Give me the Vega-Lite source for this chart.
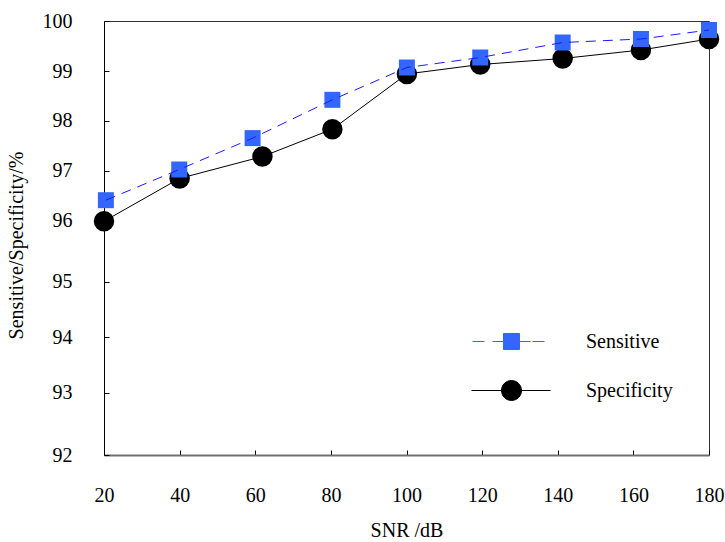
{
  "$schema": "https://vega.github.io/schema/vega-lite/v6.json",
  "width": 605,
  "height": 434,
  "autosize": {"type": "none"},
  "padding": {"left": 104, "top": 21, "right": 16, "bottom": 87},
  "background": "white",
  "config": {
    "font": "Liberation Serif",
    "view": {"stroke": "#333333", "strokeWidth": 1}
  },
  "data": {
    "values": [
      {"snr": 20, "value": 95.98, "series": "Specificity"},
      {"snr": 40, "value": 96.84, "series": "Specificity"},
      {"snr": 61.9, "value": 97.28, "series": "Specificity"},
      {"snr": 80.4, "value": 97.83, "series": "Specificity"},
      {"snr": 100.1, "value": 98.94, "series": "Specificity"},
      {"snr": 119.5, "value": 99.13, "series": "Specificity"},
      {"snr": 141.3, "value": 99.25, "series": "Specificity"},
      {"snr": 162, "value": 99.42, "series": "Specificity"},
      {"snr": 180, "value": 99.64, "series": "Specificity"},
      {"snr": 20.5, "value": 96.4, "series": "Sensitive"},
      {"snr": 39.9, "value": 97.02, "series": "Sensitive"},
      {"snr": 59.3, "value": 97.65, "series": "Sensitive"},
      {"snr": 80.4, "value": 98.42, "series": "Sensitive"},
      {"snr": 100.1, "value": 99.07, "series": "Sensitive"},
      {"snr": 119.5, "value": 99.27, "series": "Sensitive"},
      {"snr": 141.3, "value": 99.57, "series": "Sensitive"},
      {"snr": 162, "value": 99.64, "series": "Sensitive"},
      {"snr": 180, "value": 99.82, "series": "Sensitive"}
    ]
  },
  "encoding": {
    "x": {
      "field": "snr",
      "type": "quantitative",
      "scale": {"domain": [20, 180], "nice": false, "zero": false},
      "axis": {
        "title": "SNR /dB",
        "values": [20, 40, 60, 80, 100, 120, 140, 160, 180],
        "grid": false,
        "labelFlush": false,
        "tickSize": -5,
        "tickColor": "black",
        "labelPadding": 35,
        "labelFontSize": 20,
        "labelColor": "black",
        "titleFontSize": 20,
        "titleFontWeight": "normal",
        "titleColor": "black",
        "titlePadding": 15,
        "domainColor": "#707070",
        "domainWidth": 2
      }
    },
    "y": {
      "field": "value",
      "type": "quantitative",
      "scale": {
        "domain": [92, 93, 94, 95, 96, 97, 98, 99, 100],
        "range": [434, 371.7, 316, 260.7, 199, 149.5, 99.7, 50, 0],
        "nice": false,
        "zero": false
      },
      "axis": {
        "title": "Sensitive/Specificity/%",
        "values": [92, 93, 94, 95, 96, 97, 98, 99, 100],
        "grid": false,
        "labelFlush": false,
        "tickSize": -5,
        "tickColor": "black",
        "labelPadding": 37,
        "labelFontSize": 20,
        "labelColor": "black",
        "titleFontSize": 20,
        "titleFontWeight": "normal",
        "titleColor": "black",
        "titleX": -78,
        "titleY": 224,
        "domainColor": "black",
        "domainWidth": 1
      }
    },
    "color": {
      "field": "series",
      "type": "nominal",
      "scale": {"domain": ["Sensitive", "Specificity"], "range": ["#3366ff", "#000000"]},
      "legend": {
        "orient": "none",
        "legendX": 397,
        "legendY": 310,
        "title": null,
        "padding": 0,
        "labelFont": "Liberation Serif",
        "labelFontSize": 20,
        "labelColor": "black",
        "labelOffset": 64,
        "rowPadding": 26,
        "symbolSize": 400,
        "symbolStrokeWidth": 1,
        "encode": {
          "symbols": {
            "update": {
              "shape": {"signal": "datum.value === 'Sensitive' ? 'M-0.8,-0.8H0.8V0.8H-0.8Z M-3.9,0H-2.7 M-1.9,0H1.9 M2.1,0H3.3' : 'M-1,0A1,1 0 1,1 1,0A1,1 0 1,1 -1,0Z M-4,0H3.9'"},
              "fill": {"signal": "datum.value === 'Sensitive' ? '#3366ff' : '#000000'"},
              "stroke": {"signal": "datum.value === 'Sensitive' ? '#1a1aff' : '#555555'"},
              "strokeWidth": {"value": 1},
              "size": {"value": 400},
              "opacity": {"value": 1},
              "fillOpacity": {"value": 1},
              "strokeOpacity": {"value": 1}
            }
          }
        }
      }
    }
  },
  "layer": [
    {
      "transform": [{"filter": "datum.series === 'Specificity'"}],
      "mark": {"type": "line", "stroke": "black", "strokeWidth": 1}
    },
    {
      "transform": [{"filter": "datum.series === 'Specificity'"}],
      "mark": {"type": "point", "shape": "circle", "filled": true, "opacity": 1, "strokeWidth": 0, "size": 420}
    },
    {
      "transform": [{"filter": "datum.series === 'Sensitive'"}],
      "mark": {"type": "point", "shape": "square", "filled": true, "opacity": 1, "strokeWidth": 0, "size": 256}
    },
    {
      "transform": [{"filter": "datum.series === 'Sensitive'"}],
      "mark": {"type": "line", "stroke": "#1a1aff", "strokeWidth": 1, "strokeDash": [10, 7]}
    }
  ]
}
